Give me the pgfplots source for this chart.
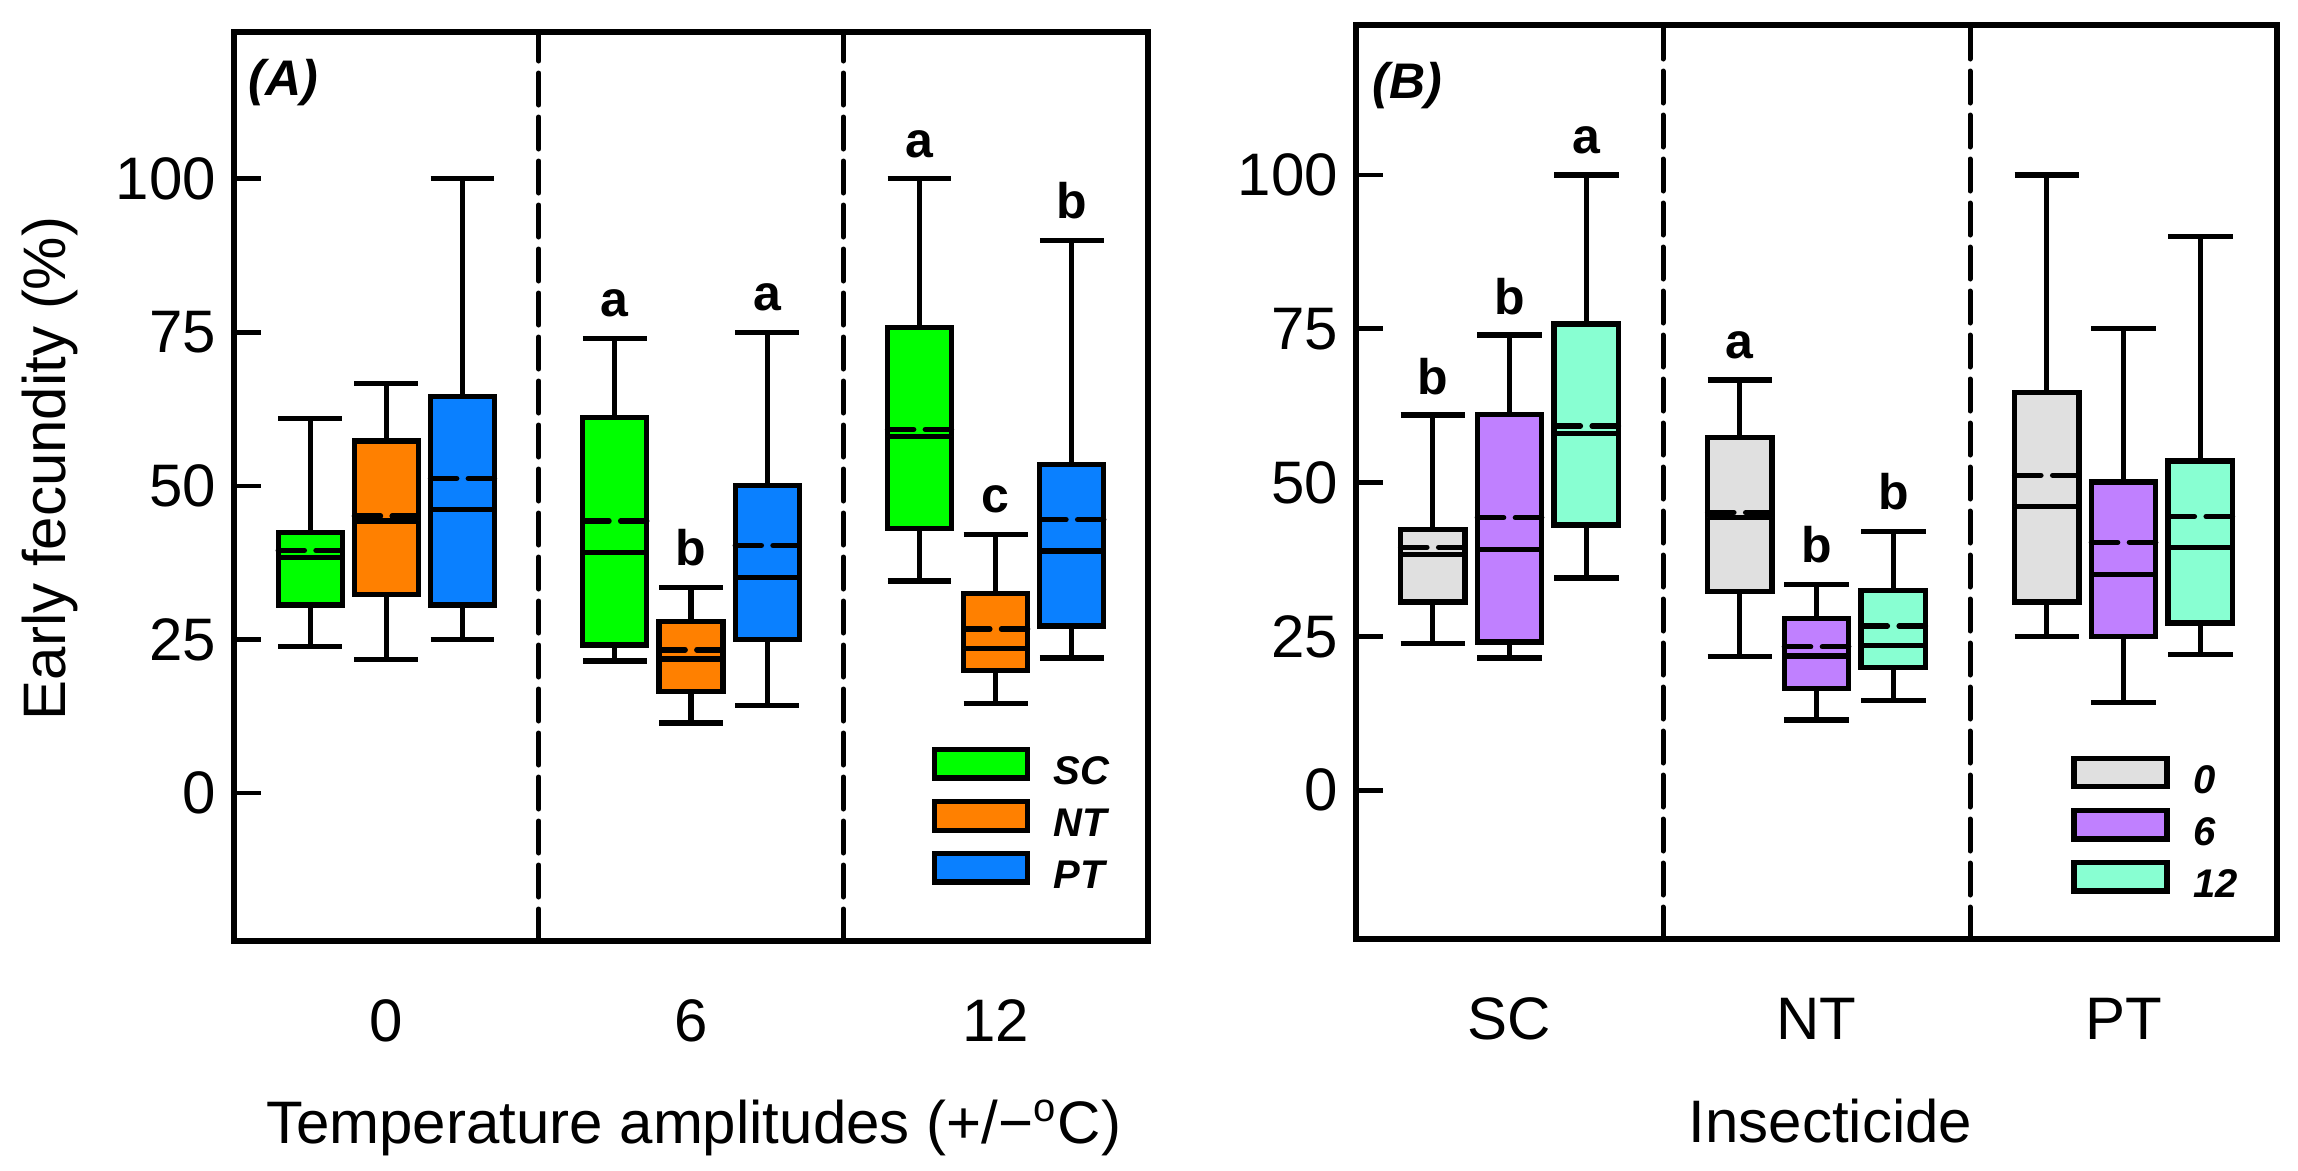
\documentclass[border=0pt]{standalone}
\usepackage{fontspec}
\setmainfont{Liberation Sans}
\usepackage{pgfplots}
\pgfplotsset{compat=1.18}
\usepgfplotslibrary{statistics}

\definecolor{cSC}{HTML}{00FF00}
\definecolor{cNT}{HTML}{FF8000}
\definecolor{cPT}{HTML}{0A80FF}
\definecolor{cZero}{HTML}{E0E0E0}
\definecolor{cSix}{HTML}{C080FF}
\definecolor{cTwelve}{HTML}{88FFD2}

\newcommand{\tickfont}{\fontsize{12}{14}\selectfont}
\newcommand{\lettfont}{\fontsize{10}{12}\selectfont\bfseries}
\newcommand{\legfont}{\fontsize{8}{9.6}\selectfont\bfseries\itshape}
\newcommand{\panfont}{\fontsize{10}{12}\selectfont\bfseries\itshape}

% box: position, lower whisker, lower quartile, median, upper quartile, upper whisker, average, colour
\newcommand{\bx}[8]{%
  \addplot[boxplot prepared={draw position=#1, lower whisker=#2, lower quartile=#3,
    median=#4, upper quartile=#5, upper whisker=#6, average=#7},
    fill=#8, draw=black, line width=1.05pt, forget plot] coordinates {};}

\newcommand{\legbox}[1]{\addlegendimage{legend image code/.code={%
  \draw[fill=#1, draw=black, line width=1.05pt] (0pt,-0.75pt) rectangle (18.6pt,4.95pt);}}}

\tikzset{divider/.style={line width=1.0pt, dash pattern=on 6.4pt off 2.4pt, line cap=round}}

\pgfplotsset{
  common/.style={
    scale only axis,
    xmin=-0.5, xmax=2.5,
    axis line style={line width=1.3pt},
    xtick={0,1,2}, xtick style={draw=none},
    ytick={0,25,50,75,100}, yticklabels={0,25,50,75,100},
    ytick pos=left, tick align=inside, major tick length=5.4pt,
    ytick style={line width=0.95pt, black},
    yticklabel style={font=\tickfont, anchor=east, inner sep=0pt, xshift=-3.4pt},
    xticklabel style={font=\tickfont, anchor=north, inner sep=0pt, yshift=-11.6pt},
    boxplot/draw direction=y,
    boxplot/box extend=0.21,
    boxplot/whisker extend=0.21,
    boxplot/draw/average/.code={%
      \draw[line width=1.05pt, line cap=round] (boxplot box cs:\pgfplotsboxplotvalue{average},0) -- (boxplot box cs:\pgfplotsboxplotvalue{average},0.41);
      \draw[line width=1.05pt, line cap=round] (boxplot box cs:\pgfplotsboxplotvalue{average},0.59) -- (boxplot box cs:\pgfplotsboxplotvalue{average},1);},
    legend cell align=left,
    legend style={draw=none, fill=none, inner sep=0pt, outer sep=0pt,
      nodes={inner sep=0pt, font=\legfont}, column sep=4.8pt, row sep=1.4pt,
      anchor=north west},
  },
}

\begin{document}
\begin{tikzpicture}
\useasboundingbox (-46.8pt,-45.8pt) rectangle (412.8pt,188.2pt);

% ---------------- Panel A ----------------
\begin{axis}[common,
  at={(0pt,0pt)}, anchor=south west,
  width=182.8pt, height=181.8pt,
  ymin=-24.1, ymax=123.9,
  xticklabels={0,6,12},
  xlabel={Temperature amplitudes (+/−\textsuperscript{o}C)},
  xlabel style={font=\tickfont, at={(axis description cs:0.503,-0.2222)}, anchor=base},
  ylabel={Early fecundity (\%)},
  ylabel style={font=\tickfont, at={(axis description cs:-0.2013,0.52)}, anchor=center},
  legend style={at={(axis cs:1.79,7.5)}},
]
\draw[divider] (axis cs:0.5,-24.1) -- (axis cs:0.5,123.9);
\draw[divider] (axis cs:1.5,-24.1) -- (axis cs:1.5,123.9);
% group 0
\bx{-0.25}{23.9}{30.6}{38.3}{42.4}{61.0}{39.5}{cSC}
\bx{0.00}{21.7}{32.3}{44.3}{57.3}{66.7}{45.1}{cNT}
\bx{0.25}{25.0}{30.6}{46.1}{64.6}{100}{51.2}{cPT}
% group 6
\bx{0.75}{21.5}{24.1}{39.1}{61.1}{74.0}{44.3}{cSC}
\bx{1.00}{11.4}{16.5}{21.8}{27.9}{33.5}{23.3}{cNT}
\bx{1.25}{14.3}{25.0}{35.1}{50.1}{75.0}{40.3}{cPT}
% group 12
\bx{1.75}{34.5}{43.1}{58.0}{75.8}{100}{59.2}{cSC}
\bx{2.00}{14.6}{19.9}{23.5}{32.5}{42.1}{26.7}{cNT}
\bx{2.25}{22.0}{27.2}{39.4}{53.5}{90.0}{44.5}{cPT}
\legbox{cSC}\addlegendentry{SC}
\legbox{cNT}\addlegendentry{NT}
\legbox{cPT}\addlegendentry{PT}
\node[anchor=base, font=\lettfont] at (axis cs:0.75,77.6) {a};
\node[anchor=base, font=\lettfont] at (axis cs:1.00,37.0) {b};
\node[anchor=base, font=\lettfont] at (axis cs:1.25,78.6) {a};
\node[anchor=base, font=\lettfont] at (axis cs:1.75,103.5) {a};
\node[anchor=base, font=\lettfont] at (axis cs:2.00,45.6) {c};
\node[anchor=base, font=\lettfont] at (axis cs:2.25,93.6) {b};
\node[anchor=north west, inner sep=0pt, font=\panfont, xshift=2.7pt, yshift=-5.2pt] at (axis description cs:0,1) {(A)};
\end{axis}

% ---------------- Panel B ----------------
\begin{axis}[common,
  at={(224.4pt,0.4pt)}, anchor=south west,
  width=184.2pt, height=182.8pt,
  ymin=-24.2, ymax=124.4,
  xticklabels={SC,NT,PT},
  xlabel={Insecticide},
  xlabel style={font=\tickfont, at={(axis description cs:0.515,-0.2222)}, anchor=base},
  legend style={at={(axis cs:1.83,5.6)}},
]
\draw[divider] (axis cs:0.5,-24.2) -- (axis cs:0.5,124.4);
\draw[divider] (axis cs:1.5,-24.2) -- (axis cs:1.5,124.4);
% SC group
\bx{-0.25}{23.9}{30.6}{38.3}{42.4}{61.0}{39.5}{cZero}
\bx{0.00}{21.5}{24.1}{39.1}{61.1}{74.0}{44.3}{cSix}
\bx{0.25}{34.5}{43.1}{58.0}{75.8}{100}{59.2}{cTwelve}
% NT group
\bx{0.75}{21.7}{32.3}{44.3}{57.3}{66.7}{45.1}{cZero}
\bx{1.00}{11.4}{16.5}{21.8}{27.9}{33.5}{23.3}{cSix}
\bx{1.25}{14.6}{19.9}{23.5}{32.5}{42.1}{26.7}{cTwelve}
% PT group
\bx{1.75}{25.0}{30.6}{46.1}{64.6}{100}{51.2}{cZero}
\bx{2.00}{14.3}{25.0}{35.1}{50.1}{75.0}{40.3}{cSix}
\bx{2.25}{22.0}{27.2}{39.4}{53.5}{90.0}{44.5}{cTwelve}
\legbox{cZero}\addlegendentry{0}
\legbox{cSix}\addlegendentry{6}
\legbox{cTwelve}\addlegendentry{12}
\node[anchor=base, font=\lettfont] at (axis cs:-0.25,64.4) {b};
\node[anchor=base, font=\lettfont] at (axis cs:0.00,77.4) {b};
\node[anchor=base, font=\lettfont] at (axis cs:0.25,103.5) {a};
\node[anchor=base, font=\lettfont] at (axis cs:0.75,70.2) {a};
\node[anchor=base, font=\lettfont] at (axis cs:1.00,37.0) {b};
\node[anchor=base, font=\lettfont] at (axis cs:1.25,45.6) {b};
\node[anchor=north west, inner sep=0pt, font=\panfont, xshift=3.1pt, yshift=-7.3pt] at (axis description cs:0,1) {(B)};
\end{axis}
\end{tikzpicture}
\end{document}
